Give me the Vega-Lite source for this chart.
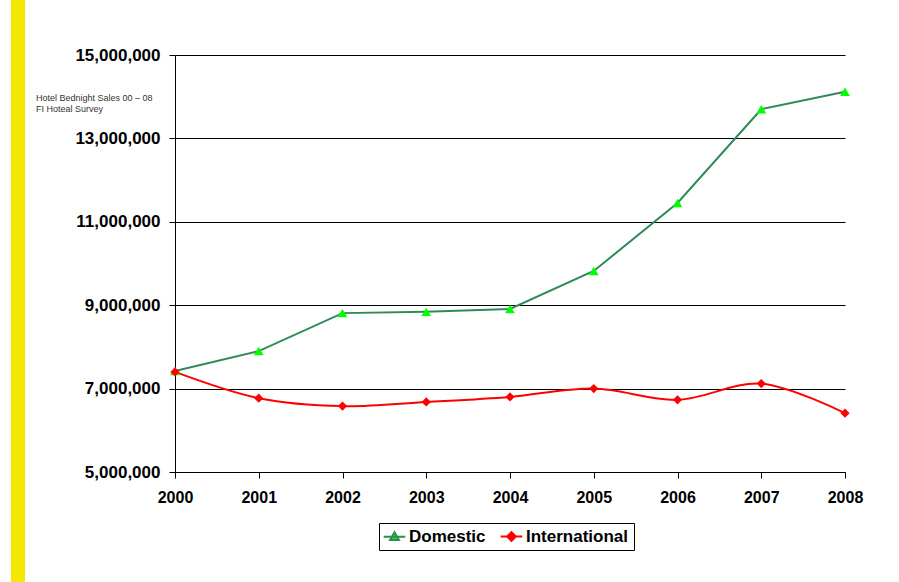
{
  "$schema": "https://vega.github.io/schema/vega-lite/v6.json",
  "autosize": "none",
  "width": 670,
  "height": 417,
  "padding": {"left": 175, "top": 55, "right": 54, "bottom": 110},
  "background": "white",
  "config": {
    "font": "Liberation Sans",
    "view": {"stroke": null}
  },
  "title": {
    "text": ["Hotel Bednight Sales 00 – 08", "FI Hoteal Survey"],
    "anchor": "start",
    "frame": "group",
    "dx": -139,
    "dy": 118,
    "fontSize": 9,
    "fontWeight": "normal",
    "font": "Liberation Sans",
    "color": "#333333",
    "lineHeight": 11
  },
  "data": {
    "values": [
      {"year": "2000", "series": "Domestic", "value": 7420000},
      {"year": "2001", "series": "Domestic", "value": 7900000},
      {"year": "2002", "series": "Domestic", "value": 8810000},
      {"year": "2003", "series": "Domestic", "value": 8840000},
      {"year": "2004", "series": "Domestic", "value": 8910000},
      {"year": "2005", "series": "Domestic", "value": 9820000},
      {"year": "2006", "series": "Domestic", "value": 11450000},
      {"year": "2007", "series": "Domestic", "value": 13700000},
      {"year": "2008", "series": "Domestic", "value": 14120000},
      {"year": "2000", "series": "International", "value": 7400000},
      {"year": "2001", "series": "International", "value": 6770000},
      {"year": "2002", "series": "International", "value": 6580000},
      {"year": "2003", "series": "International", "value": 6680000},
      {"year": "2004", "series": "International", "value": 6800000},
      {"year": "2005", "series": "International", "value": 7000000},
      {"year": "2006", "series": "International", "value": 6730000},
      {"year": "2007", "series": "International", "value": 7120000},
      {"year": "2008", "series": "International", "value": 6410000}
    ]
  },
  "encoding": {
    "x": {
      "field": "year", "type": "ordinal",
      "scale": {"type": "point", "padding": 0},
      "axis": {
        "title": null, "labelAngle": 0, "labelFontSize": 16, "labelFontWeight": "bold",
        "labelColor": "black", "labelPadding": 11, "tickSize": 6, "tickColor": "black",
        "domainColor": "black", "grid": false
      }
    },
    "y": {
      "field": "value", "type": "quantitative",
      "scale": {"domain": [5000000, 15000000], "nice": false, "zero": false},
      "axis": {
        "title": null, "values": [5000000, 7000000, 9000000, 11000000, 13000000, 15000000],
        "format": ",d", "labelFontSize": 17, "labelFontWeight": "bold", "labelColor": "black",
        "labelPadding": 9, "tickSize": 6, "tickColor": "black", "domainColor": "black",
        "grid": true, "gridColor": "black", "gridOpacity": 1
      }
    }
  },
  "layer": [
    {
      "transform": [{"filter": "false"}],
      "mark": {"type": "point", "filled": true, "opacity": 1},
      "encoding": {
        "color": {
          "field": "value", "type": "quantitative",
          "scale": {"domain": [0, 1], "range": ["#f2e800", "#f2e800"]},
          "legend": {
            "type": "gradient", "title": null, "orient": "none", "legendX": -164, "legendY": -55,
            "direction": "vertical", "gradientLength": 582, "gradientThickness": 14,
            "gradientStrokeWidth": 0, "labelOpacity": 0, "padding": 0, "offset": 0,
            "labelFontSize": 1, "tickCount": 2
          }
        }
      }
    },
    {
      "transform": [{"filter": "datum.series === 'Domestic'"}],
      "mark": {"type": "line", "color": "#2e8b57", "strokeWidth": 2},
      "encoding": {}
    },
    {
      "transform": [{"filter": "datum.series === 'International'"}],
      "mark": {"type": "line", "color": "#ff0000", "strokeWidth": 2, "interpolate": "catmull-rom"},
      "encoding": {}
    },
    {
      "transform": [{"filter": "datum.series === 'Domestic'"}],
      "mark": {"type": "point", "filled": true, "size": 95, "opacity": 1, "shape": "triangle-up", "color": "#00ff00"}
    },
    {
      "transform": [{"filter": "datum.series === 'International'"}],
      "mark": {"type": "point", "filled": true, "size": 85, "opacity": 1, "shape": "diamond", "color": "#ff0000"}
    },
    {
      "transform": [{"filter": "false"}],
      "mark": {"type": "point", "filled": true, "size": 64, "opacity": 1, "strokeWidth": 2},
      "encoding": {
        "shape": {
          "field": "series", "type": "nominal",
          "scale": {"domain": ["Domestic", "International"], "range": ["M-2.2,0H3.2M0.5,-1.1L1.6,0.8H-0.6Z", "M-2.2,0H3.2M0.5,-1.1L1.6,0L0.5,1.1L-0.6,0Z"]},
          "legend": {
            "title": null, "orient": "none", "legendX": 204, "legendY": 468,
            "direction": "horizontal", "strokeColor": "black", "padding": 5,
            "labelFontSize": 17, "labelFontWeight": "bold", "labelColor": "black",
            "symbolSize": 64, "symbolStrokeWidth": 2, "labelOffset": 8, "columnPadding": 10, "offset": 0
          }
        },
        "fill": {
          "field": "series", "type": "nominal",
          "scale": {"domain": ["Domestic", "International"], "range": ["#00ff00", "#ff0000"]}
        },
        "stroke": {
          "field": "series", "type": "nominal",
          "scale": {"domain": ["Domestic", "International"], "range": ["#2e8b57", "#ff0000"]}
        }
      }
    }
  ]
}
